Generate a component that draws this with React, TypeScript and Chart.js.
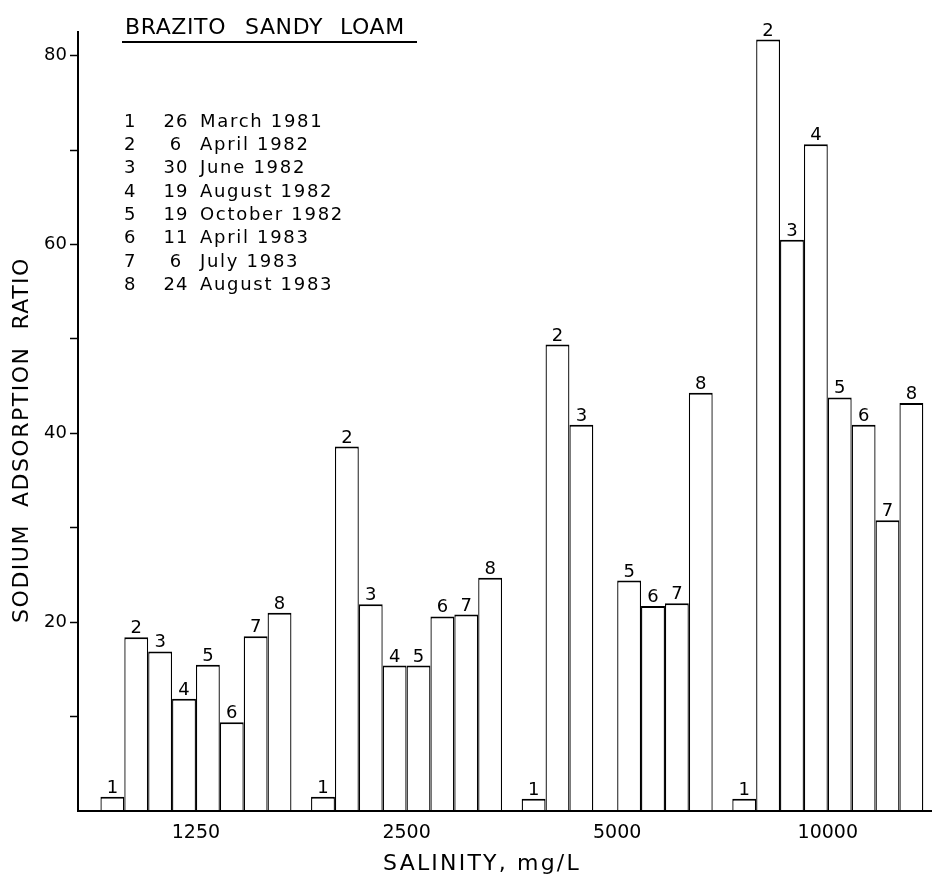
import React, { useEffect, useRef } from 'react';
import { Chart, registerables } from 'chart.js';

Chart.register(...registerables);

// ---- data ----
const salinityLevels = ['1250', '2500', '5000', '10000'];
const sampleNumbers = ['1', '2', '3', '4', '5', '6', '7', '8'];
const sampleDays = ['26', '6', '30', '19', '19', '11', '6', '24'];
const sampleMonths = ['March 1981', 'April 1982', 'June 1982', 'August 1982', 'October 1982', 'April 1983', 'July 1983', 'August 1983'];

// sodium adsorption ratio per sampling date, across salinity levels
const sar1 = [1.5, 1.5, 1.3, 1.3];
const sar2 = [18.4, 38.6, 49.4, 81.7];
const sar3 = [16.9, 21.9, 40.9, 60.5];
const sar4 = [11.9, 15.4, null, 70.6];
const sar5 = [15.5, 15.4, 24.4, 43.8];
const sar6 = [9.4, 20.6, 21.7, 40.9];
const sar7 = [18.5, 20.8, 22.0, 30.8];
const sar8 = [21.0, 24.7, 44.3, 43.2];

const yLabelTicks = [20, 40, 60, 80];
const yMinorTicks = [10, 30, 50, 70];

const chartTitle = 'BRAZITO SANDY LOAM';
const yTitle = 'SODIUM  ADSORPTION  RATIO';
const xTitle = 'SALINITY, mg/L';

const FONT = "'DejaVu Sans', sans-serif";

const seriesValues = [sar1, sar2, sar3, sar4, sar5, sar6, sar7, sar8];

const annotatePlugin = {
  id: 'annotate',
  afterDatasetsDraw(chart: any) {
    const ctx = chart.ctx;
    const area = chart.chartArea;
    ctx.save();
    // redraw the baseline over the bar bottoms
    ctx.strokeStyle = '#000';
    ctx.lineWidth = 2;
    ctx.beginPath();
    ctx.moveTo(area.left - 1, area.bottom);
    ctx.lineTo(area.right, area.bottom);
    ctx.stroke();

    ctx.fillStyle = '#000';
    ctx.font = `18px ${FONT}`;
    ctx.textAlign = 'center';
    ctx.textBaseline = 'alphabetic';
    chart.data.datasets.forEach((_ds: any, i: number) => {
      const meta = chart.getDatasetMeta(i);
      meta.data.forEach((bar: any) => {
        ctx.fillText(sampleNumbers[i], bar.x, bar.y - 4);
      });
    });
    ctx.restore();
  },
  afterDraw(chart: any) {
    const ctx = chart.ctx;
    ctx.save();
    ctx.fillStyle = '#000';
    ctx.strokeStyle = '#000';

    // title
    ctx.font = `22px ${FONT}`;
    ctx.letterSpacing = '0.6px';
    ctx.textAlign = 'left';
    ctx.textBaseline = 'alphabetic';
    const words = chartTitle.split(' ');
    const wordX = [125, 245, 340];
    words.forEach((w, k) => ctx.fillText(w, wordX[k], 34));
    ctx.lineWidth = 2;
    ctx.beginPath();
    ctx.moveTo(122, 42);
    ctx.lineTo(417, 42);
    ctx.stroke();

    // legend
    ctx.font = `18px ${FONT}`;
    sampleDays.forEach((d, k) => {
      const y = 126.7 + k * 23.3;
      ctx.letterSpacing = '0px';
      ctx.textAlign = 'left';
      ctx.fillText(sampleNumbers[k], 124, y);
      ctx.letterSpacing = '1px';
      ctx.textAlign = 'center';
      ctx.fillText(d, 176, y);
      ctx.letterSpacing = '1.7px';
      ctx.textAlign = 'left';
      ctx.fillText(sampleMonths[k], 200, y);
    });

    // y axis title
    ctx.font = `22px ${FONT}`;
    ctx.letterSpacing = '1.5px';
    ctx.textAlign = 'center';
    ctx.textBaseline = 'middle';
    ctx.translate(22, 440);
    ctx.rotate(-Math.PI / 2);
    ctx.fillText(yTitle, 0, 0);
    ctx.setTransform(1, 0, 0, 1, 0, 0);

    // x axis title
    ctx.font = `22px ${FONT}`;
    ctx.letterSpacing = '2.2px';
    ctx.textAlign = 'center';
    ctx.textBaseline = 'alphabetic';
    ctx.fillText(xTitle, 482, 870);
    ctx.restore();
  },
};

export default function App() {
  const ref = useRef<HTMLCanvasElement>(null);

  useEffect(() => {
    const canvas = ref.current;
    if (!canvas) return;
    const chart = new Chart(canvas, {
      type: 'bar',
      data: {
        datasets: seriesValues.map((vals, i) => ({
          label: `${sampleDays[i]} ${sampleMonths[i]}`,
          data: vals
            .map((v, j) => ({ x: j, y: v }))
            .filter((p) => p.y !== null) as any,
          backgroundColor: '#ffffff',
          borderColor: '#000000',
          borderWidth: { top: 2, left: 1.3, right: 1.3, bottom: 0 },
          borderSkipped: 'start',
          categoryPercentage: 0.907,
          barPercentage: 1,
        })),
      },
      options: {
        responsive: false,
        animation: false,
        devicePixelRatio: 1,
        layout: { padding: { top: 32, right: 2, bottom: 0, left: 0 } },
        plugins: {
          legend: { display: false },
          tooltip: { enabled: false },
          title: { display: false },
        },
        scales: {
          x: {
            type: 'linear',
            min: -0.56,
            max: 3.49,
            offset: false,
            afterBuildTicks: (scale: any) => {
              scale.ticks = salinityLevels.map((_, i) => ({ value: i }));
            },
            afterFit: (scale: any) => {
              scale.height = 67;
            },
            ticks: {
              autoSkip: false,
              maxRotation: 0,
              padding: 11,
              color: '#000',
              font: { family: FONT, size: 19 },
              callback: (v: any) => salinityLevels[v] ?? '',
            },
            grid: { display: false, drawTicks: false, offset: false },
            border: { display: true, color: '#000', width: 2 },
          },
          y: {
            type: 'linear',
            min: 0,
            max: 82.5,
            afterBuildTicks: (scale: any) => {
              scale.ticks = [...yMinorTicks, ...yLabelTicks]
                .sort((a, b) => a - b)
                .map((v) => ({ value: v }));
            },
            afterFit: (scale: any) => {
              scale.width = 78;
            },
            ticks: {
              padding: 3,
              color: '#000',
              font: { family: FONT, size: 18 },
              callback: (v: any) => (yLabelTicks.includes(v) ? String(v) : ''),
            },
            grid: {
              display: true,
              drawOnChartArea: false,
              drawTicks: true,
              tickLength: 8,
              tickWidth: 1.5,
              tickColor: '#000',
            },
            border: { display: true, color: '#000', width: 2 },
          },
        },
      },
      plugins: [annotatePlugin],
    } as any);
    return () => chart.destroy();
  }, []);

  return (
    <div style={{ position: 'absolute', left: 0, top: 0, width: 933, height: 878, background: '#fff' }}>
      <canvas ref={ref} width={933} height={878} style={{ display: 'block', width: 933, height: 878 }} />
    </div>
  );
}
